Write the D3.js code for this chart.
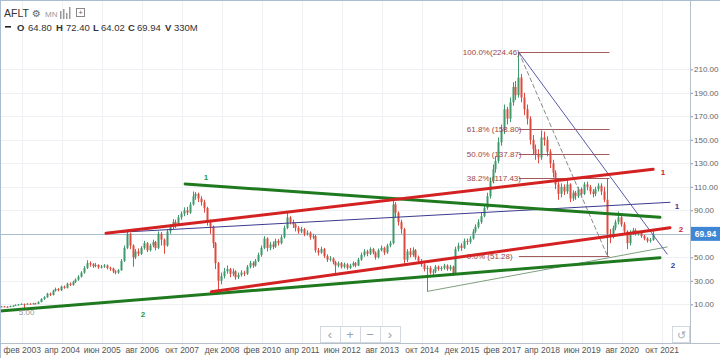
<!DOCTYPE html>
<html><head><meta charset="utf-8">
<script src="https://cdn.jsdelivr.net/npm/d3@7"></script>
<style>body{margin:0;background:#fff;} svg{display:block;font-family:"Liberation Sans", Arial, sans-serif;}</style>
</head><body><svg id="c" width="720" height="358"></svg>
<script>
// ---------- DATA ----------
const ticker = "AFLT";
const startMonth = -7;            // first candle, months relative to Feb 2003
const firstOpen = 8.0;
const closes = [
 8.2, 8.0, 7.8, 8.5, 8.8, 9.5, 9.8,
 10.3, 10.0, 10.5, 10.2, 10.8, 10.4, 12.0, 14.5, 16.0, 19.0, 18.0, 21.5,
 23.0, 22.0, 25.0, 24.0, 27.5, 26.5, 29.0, 31.0, 33.5, 37.0, 41.0, 45.0,
 44.0, 42.5, 43.5, 41.5, 42.0, 43.0, 41.0, 40.5, 38.0, 37.0, 39.0, 47.0,
 58.0, 70.0, 60.0, 50.0, 55.0, 53.0, 58.0, 62.0, 56.0, 60.0, 63.0, 58.0,
 70.0, 65.0, 60.0, 72.0, 76.0, 80.0, 78.0, 84.0, 87.0, 90.0, 88.0, 95.0,
 102, 104, 100, 97, 92, 80, 76, 62, 45, 30, 34, 38,
 40, 36, 38, 33, 35, 37, 36, 42, 45, 43, 47, 52,
 58, 66, 58, 61, 59, 64, 62, 67, 75, 84, 80, 78,
 75, 72, 74, 70, 71, 67, 68, 56, 54, 57, 51, 48,
 49, 46, 43, 45, 42, 44, 41, 43, 45, 43, 48, 52,
 55, 53, 57, 54, 50, 56, 58, 54, 60, 62, 95, 88,
 80, 74, 48, 55, 52, 56, 50, 47, 44, 40, 41, 37,
 38, 42, 40, 41, 43, 40, 42, 36, 57, 60, 58, 64,
 63, 66, 72, 76, 80, 85, 92, 102, 115, 125, 132, 148,
 158, 176, 168, 182, 195, 188, 203, 186, 176, 168, 150, 142,
 138, 135, 152, 150, 140, 130, 122, 112, 104, 110, 106, 112,
 100, 105, 102, 108, 104, 112, 110, 106, 104, 108, 111, 106,
 99, 70, 68, 75, 80, 84, 78, 72, 62, 71, 73, 70,
 71, 68, 66, 64, 64.8, 69.94
];
const highs = [
 8.6, 8.5, 8.3, 8.9, 9.2, 9.9, 10.3,
 10.8, 10.7, 11.0, 10.9, 11.3, 11.2, 12.6, 15.2, 16.9, 19.8, 20.0, 22.4,
 24.2, 23.8, 25.9, 26.0, 28.4, 28.6, 30.0, 32.0, 34.8, 38.2, 42.5, 47.5,
 46.5, 45.0, 45.2, 44.0, 43.5, 44.2, 43.8, 42.0, 41.2, 39.0, 40.0, 48.5,
 60.0, 72.5, 71.0, 61.0, 57.0, 57.5, 59.5, 64.0, 63.0, 61.5, 65.0, 64.0,
 72.0, 71.5, 66.0, 74.0, 78.0, 82.5, 82.0, 86.0, 89.0, 92.5, 93.0, 97.0,
 106, 105.5, 105, 102, 99, 93, 82, 77, 63, 46, 37, 41,
 43, 41, 40.5, 39, 37, 39, 38.5, 43.5, 47, 46.5, 48.5, 54,
 60, 68, 67, 63, 63.5, 66, 65.5, 69, 77, 88, 85, 82,
 79, 76.5, 76, 75, 73, 72, 70, 69, 58, 59, 58, 52.5,
 51, 50, 47, 46.5, 46, 45.5, 45, 44.5, 46.5, 46, 49.5, 54,
 57, 56.5, 58.5, 58, 55, 57.5, 60, 59, 61.5, 64, 99, 97,
 89, 82, 75, 57, 58, 58.5, 57, 51.5, 48.5, 45, 43, 42.5,
 40, 43.5, 43, 42.5, 44.5, 44, 43.5, 43, 59, 62.5, 62, 66,
 66, 68, 74, 78, 82.5, 88, 95, 105, 118, 129, 136, 152,
 163, 180, 178, 186, 199, 200, 224.46, 206, 190, 180, 170, 154,
 146, 142, 158, 157, 153, 142, 133, 124, 114, 113, 112, 116,
 113, 107, 106.5, 110, 109.5, 114, 114.5, 111.5, 108, 110, 113, 113,
 110, 117.4, 74, 77, 82, 89, 86, 80, 73, 73, 75, 74.5,
 72.5, 72, 69, 67, 66.5, 72.4
];
const lows = [
 7.6, 7.6, 7.2, 7.5, 8.2, 8.6, 9.2,
 9.5, 5.0, 9.7, 9.8, 9.9, 10.0, 10.1, 11.6, 13.8, 15.5, 17.0, 17.5,
 20.8, 21.0, 21.4, 23.2, 23.5, 25.6, 25.8, 28.2, 30.0, 32.8, 36.0, 40.0,
 42.0, 41.0, 41.5, 40.2, 40.5, 41.0, 39.8, 38.5, 36.5, 35.5, 36.0, 38.5,
 46.0, 57.0, 57.0, 42.0, 48.5, 51.0, 52.0, 56.5, 54.5, 55.0, 58.5, 56.0,
 57.0, 60.0, 53.0, 59.0, 70.0, 74.0, 75.0, 77.0, 82.0, 85.0, 86.0, 87.0,
 94, 99, 97, 94, 88, 77, 70, 58, 40, 22, 27, 32,
 36, 33, 34, 31, 31.5, 33.5, 34, 35, 40.5, 41, 42, 46,
 50.5, 57, 55, 56, 57, 58, 60, 61, 66, 74, 78, 75,
 72, 70, 70.5, 68, 68.5, 65, 65.5, 54, 51.5, 53, 49.5, 46,
 46.5, 44, 36, 41.5, 40.5, 40.5, 39.5, 40, 42, 41.5, 42.5, 47,
 50.5, 51, 52, 52.5, 48, 49, 55, 52, 53, 58.5, 61, 84,
 77, 70, 45, 46, 50, 50.5, 48, 44.5, 42, 38, 21, 35.5,
 35, 36.5, 38.5, 38.5, 39.5, 38.5, 38.5, 34.5, 35.5, 55, 55.5, 57,
 60.5, 61.5, 65, 70.5, 74.5, 78.5, 84, 90.5, 100, 113, 122, 130,
 145, 155, 163, 165, 179, 184, 186, 182, 171, 163, 146, 137,
 133, 130, 133, 145, 136, 126, 118, 108, 99, 101, 103, 104,
 97, 98, 99, 100.5, 101, 103, 107, 103.5, 101, 102, 106, 103,
 97, 51.28, 62, 66, 73, 78, 76, 70, 57, 60, 69, 68.5,
 68.5, 66.5, 64.5, 62.5, 62.5, 64.02
];
const lastOHLCV = {O:"64.80", H:"72.40", L:"64.02", C:"69.94", V:"330M"};
const lastPrice = 69.94;
const minLowLabel = {m: 1, v: 5.0, text: "5.00"};

const tickMonths = [0,14,28,42,56,70,84,98,112,126,140,154,168,182,196,210,224];
const tickLabels = ["фев 2003","апр 2004","июн 2005","авг 2006","окт 2007","дек 2008","фев 2010","апр 2011","июн 2012","авг 2013","окт 2014","дек 2015","фев 2017","апр 2018","июн 2019","авг 2020","окт 2021"];
const priceTicks = [10,30,50,70,90,110,130,150,170,190,210];

const fibAnchors = [174, 205];       // months of 100% and 0% points
const fibValues = [224.46, 158.80, 137.87, 117.43, 51.28];
const fibLabels = ["100.0%(224.46)", "61.8% (158.80)", "50.0% (137.87)", "38.2% (117.43)", "0.0% (51.28)"];

// trend lines: [month1, price1, month2, price2]
const greenLine1 = [57.2, 112.4, 223.4, 84.0];
const greenLine2 = [-7.6, 4.3, 223.4, 49.7];
const redLine1   = [29.5, 70.4, 221.0, 124.9];
const redLine2   = [66.4, 20.7, 226.9, 75.2];
const blueLine1  = [29.9, 70.7, 226.9, 96.8];
const blueLine2  = [174, 224.46, 225.9, 52.8];
const thinLine   = [142, 21, 225.9, 58.8];
const dashLine   = [174, 224.46, 205, 51.28];

// ---------- CHART ----------
const svg = d3.select("#c");
const plotR = 690, plotB = 343;
const x = d3.scaleLinear().domain([0, 14]).range([21.7, 61.7]);
const y = d3.scaleLinear().domain([10, 210]).range([304.3, 69.3]);

svg.append("defs").append("clipPath").attr("id","clip")
  .append("rect").attr("x",0).attr("y",0).attr("width",plotR).attr("height",plotB);

// grid
const grid = svg.append("g");
grid.selectAll(".vg").data(tickMonths).join("line")
  .attr("x1", d=>Math.round(x(d))+0.5).attr("x2", d=>Math.round(x(d))+0.5)
  .attr("y1", 0).attr("y2", plotB).attr("stroke", "#eef0f3");
grid.selectAll(".hg").data(priceTicks).join("line")
  .attr("x1", 0).attr("x2", plotR)
  .attr("y1", d=>Math.round(y(d))+0.5).attr("y2", d=>Math.round(y(d))+0.5).attr("stroke", "#eef0f3");

const plot = svg.append("g").attr("clip-path","url(#clip)");

// current price line
plot.append("line").attr("x1",0).attr("x2",plotR)
  .attr("y1", Math.round(y(lastPrice))+0.5).attr("y2", Math.round(y(lastPrice))+0.5)
  .attr("stroke","#a9bfce").attr("stroke-width",1);

// candles
const candles = closes.map((c,i)=>({m:startMonth+i, o: i===0?firstOpen:closes[i-1], h:highs[i], l:lows[i], c}));
const upC = "#3e9a6a", dnC = "#df4a3e";
const cg = plot.append("g");
candles.forEach(d=>{
  const cx = Math.floor(x(d.m));
  const col = d.c >= d.o ? upC : dnC;
  cg.append("rect").attr("x", cx).attr("width",1)
    .attr("y", y(d.h)).attr("height", Math.max(1, y(d.l)-y(d.h))).attr("fill", col);
  const top = y(Math.max(d.o,d.c)), bot = y(Math.min(d.o,d.c));
  cg.append("rect").attr("x", cx-0.5).attr("width",2)
    .attr("y", top).attr("height", Math.max(1, bot-top)).attr("fill", col);
});

// min low label
svg.append("text").attr("x", x(minLowLabel.m)+2).attr("y", y(minLowLabel.v)+5)
  .attr("text-anchor","middle").attr("font-size",8).attr("fill","#999").text(minLowLabel.text);

// fib
const fibG = plot.append("g");
fibValues.forEach((v,i)=>{
  fibG.append("line").attr("x1", x(fibAnchors[0])).attr("x2", x(fibAnchors[1])+2)
    .attr("y1", Math.round(y(v))+0.5).attr("y2", Math.round(y(v))+0.5)
    .attr("stroke","#a35a5a").attr("stroke-width",1);
  fibG.append("text").attr("x", x(fibAnchors[0]) - (i===0?56:52)).attr("y", y(v)+3)
    .attr("font-size",8).attr("fill","#9a4545").text(fibLabels[i]);
});

function seg(l, stroke, w, dash){
  const p = plot.append("line").attr("x1",x(l[0])).attr("y1",y(l[1])).attr("x2",x(l[2])).attr("y2",y(l[3]))
    .attr("stroke",stroke).attr("stroke-width",w).attr("stroke-linecap","round");
  if(dash) p.attr("stroke-dasharray",dash);
}
seg(dashLine, "#8a8a8a", 1, "4,3");
seg(thinLine, "#7f9f7f", 1);
seg(blueLine1, "#3b3b8f", 1);
seg(blueLine2, "#5a5aa8", 1);
seg(greenLine1, "#1f7a1f", 3);
seg(greenLine2, "#1f7a1f", 3);
seg(redLine1, "#d42222", 3);
seg(redLine2, "#d42222", 3);

// line labels
const lbls = [
  {t:"1", x:206, y:180, c:"#2b9a3a"}, {t:"2", x:143, y:317, c:"#2b9a3a"},
  {t:"1", x:663, y:175, c:"#cc2233"}, {t:"2", x:681, y:232, c:"#cc2233"},
  {t:"1", x:677, y:209, c:"#3a3a9a"}, {t:"2", x:673, y:268, c:"#3a3a9a"}
];
svg.selectAll(".ll").data(lbls).join("text").attr("x",d=>d.x).attr("y",d=>d.y)
  .attr("font-size",8).attr("font-weight","bold").attr("text-anchor","middle").attr("fill",d=>d.c).text(d=>d.t);

// price axis (tick label hidden where the last-price badge sits)
const axisTicks = priceTicks.filter(d => Math.abs(y(d) - y(lastPrice)) > 9);
const ya = svg.append("g").attr("transform",`translate(${plotR},0)`)
  .call(d3.axisRight(y).tickValues(axisTicks).tickFormat(d3.format(".2f")).tickSize(3).tickPadding(1));
ya.select(".domain").remove();
ya.selectAll("line").attr("stroke","#8a97a5");
ya.selectAll("text").attr("font-size",8).attr("fill","#666").attr("font-family","Liberation Sans, Arial");
svg.append("line").attr("x1",plotR+0.5).attr("x2",plotR+0.5).attr("y1",0).attr("y2",plotB+1).attr("stroke","#b4c0cc");

// last price badge
svg.append("rect").attr("x",plotR+1).attr("y",y(lastPrice)-7).attr("width",29).attr("height",14).attr("fill","#3f87d4");
svg.append("text").attr("x",plotR+15.5).attr("y",y(lastPrice)+3).attr("text-anchor","middle").attr("font-size",8.5).attr("font-weight","bold").attr("fill","#fff").text(lastPrice.toFixed(2));

// time axis
svg.append("line").attr("x1",0).attr("x2",720).attr("y1",plotB+0.5).attr("y2",plotB+0.5).attr("stroke","#b4c0cc");
const xa = svg.append("g").attr("transform",`translate(0,${plotB})`)
  .call(d3.axisBottom(x).tickValues(tickMonths).tickFormat((d,i)=>tickLabels[i]).tickSize(0).tickPadding(4));
xa.select(".domain").remove();
xa.selectAll("text").attr("font-size",8.5).attr("fill","#555").attr("font-family","Liberation Sans, Arial");

// frame
svg.append("line").attr("x1",0.5).attr("x2",0.5).attr("y1",0).attr("y2",358).attr("stroke","#a9bcd0");
svg.append("line").attr("x1",0).attr("x2",720).attr("y1",0.5).attr("y2",0.5).attr("stroke","#a9bcd0");

// nav buttons
const nav = svg.append("g");
nav.append("rect").attr("x",320.5).attr("y",326.5).attr("width",80).attr("height",16).attr("fill","#fff").attr("stroke","#d3d8de");
[340,360,380].forEach(v=>nav.append("line").attr("x1",v+0.5).attr("x2",v+0.5).attr("y1",327).attr("y2",343).attr("stroke","#d3d8de"));
[["‹",330],["+",350],["−",370],["›",390]].forEach(([t,px])=>nav.append("text").attr("x",px).attr("y",339).attr("text-anchor","middle").attr("font-size",13).attr("fill","#9aa3ad").text(t));
nav.append("rect").attr("x",672.5).attr("y",326.5).attr("width",17).attr("height",16).attr("fill","#fff").attr("stroke","#d3d8de");
nav.append("text").attr("x",681).attr("y",339).attr("text-anchor","middle").attr("font-size",11).attr("fill","#a0a8b0").text("↺");

// header
const hd = svg.append("g").attr("font-family","Liberation Sans, Arial");
hd.append("text").attr("x",4).attr("y",17).attr("font-size",10.5).attr("fill","#333").text(ticker);
hd.append("text").attr("x",32).attr("y",17).attr("font-size",10).attr("fill","#666").attr("font-family","DejaVu Sans").text("⚙");
hd.append("text").attr("x",45).attr("y",17).attr("font-size",8).attr("fill","#999").text("MN");
[[60,10,4],[63,8,6],[66,12,2],[69,6,8]].forEach(([bx,by,bh])=>hd.append("rect").attr("x",bx).attr("y",by+1).attr("width",1.5).attr("height",bh+4).attr("fill","#999"));
hd.append("rect").attr("x",76.5).attr("y",8.5).attr("width",8).attr("height",8).attr("fill","none").attr("stroke","#888");
hd.append("text").attr("x",80.5).attr("y",15).attr("text-anchor","middle").attr("font-size",8).attr("fill","#666").text("+");
hd.append("rect").attr("x",5).attr("y",26).attr("width",6).attr("height",1.6).attr("fill","#222");
const row = [["O",17,true],[lastOHLCV.O,28,false],["H",56,true],[lastOHLCV.H,66,false],["L",93,true],[lastOHLCV.L,101,false],["C",128,true],[lastOHLCV.C,137,false],["V",165,true],[lastOHLCV.V,174,false]];
row.forEach(([t,px,b])=>hd.append("text").attr("x",px).attr("y",30.5).attr("font-size",9.5).attr("font-weight",b?"bold":"normal").attr("fill","#333").text(t));
</script></body></html>
